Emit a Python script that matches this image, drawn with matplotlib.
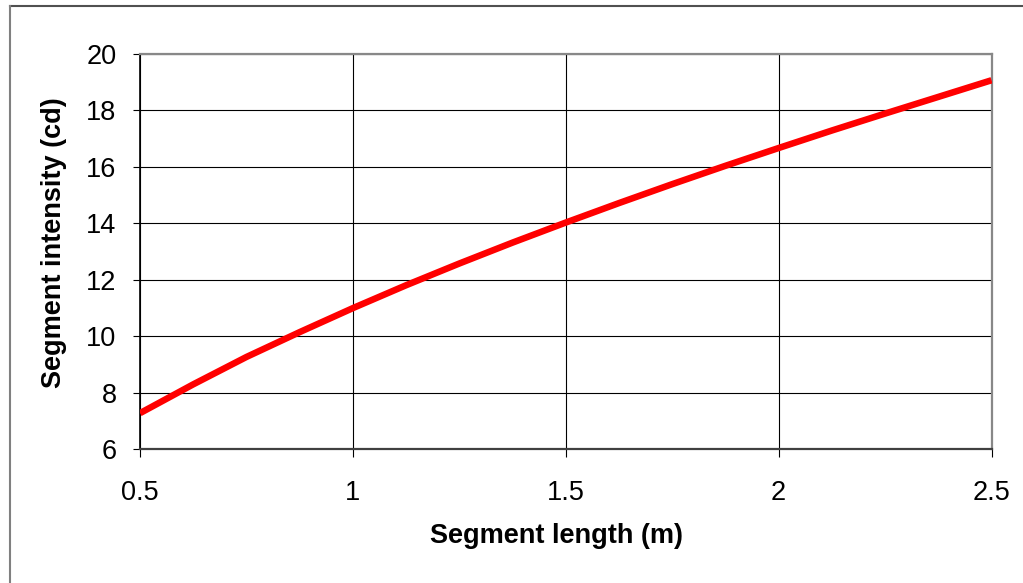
import matplotlib
matplotlib.use("Agg")
import matplotlib.pyplot as plt
from matplotlib.lines import Line2D

segment_length = [0.5, 0.625, 0.75, 0.875, 1.0, 1.125, 1.25, 1.375, 1.5,
                  1.625, 1.75, 1.875, 2.0, 2.125, 2.25, 2.375, 2.5]
segment_intensity = [7.28, 8.30, 9.27, 10.15, 11.0, 11.81, 12.58, 13.32, 14.03,
                     14.72, 15.39, 16.04, 16.67, 17.29, 17.89, 18.48, 19.07]
x_ticks = [0.5, 1, 1.5, 2, 2.5]
x_tick_labels = ["0.5", "1", "1.5", "2", "2.5"]
y_ticks = [6, 8, 10, 12, 14, 16, 18, 20]

plt.rcParams['font.family'] = ['Liberation Sans', 'DejaVu Sans']

W, H = 1023, 583
fig = plt.figure(figsize=(W / 100, H / 100), dpi=100)
fig.patch.set_facecolor('white')

# outer chart border (top and left visible)
fig.add_artist(Line2D([9.5 / W, 1.0], [1 - 6 / H, 1 - 6 / H], transform=fig.transFigure,
                      color='#505050', lw=1.5))
fig.add_artist(Line2D([9.5 / W, 9.5 / W], [1 - 6 / H, 0.0], transform=fig.transFigure,
                      color='#808080', lw=1.5))

left, right = 140 / W, 991.5 / W
bottom, top = 1 - 449.3 / H, 1 - 54 / H
ax = fig.add_axes([left, bottom, right - left, top - bottom])

ax.plot(segment_length, segment_intensity, color='#FF0000', lw=4.7,
        solid_capstyle='butt', solid_joinstyle='round', zorder=3)

ax.set_xlim(0.5, 2.5)
ax.set_ylim(6, 20)
ax.set_xticks(x_ticks)
ax.set_xticklabels(x_tick_labels)
ax.set_yticks(y_ticks)

ax.grid(True, color='#000000', lw=0.8, zorder=1)
ax.set_axisbelow(True)

ax.spines['left'].set_color('#000000')
ax.spines['left'].set_linewidth(1.2)
ax.spines['bottom'].set_color('#404040')
ax.spines['bottom'].set_linewidth(1.6)
ax.spines['top'].set_color('#888888')
ax.spines['top'].set_linewidth(1.6)
ax.spines['right'].set_color('#888888')
ax.spines['right'].set_linewidth(1.6)

ax.tick_params(axis='y', direction='out', length=5, width=0.8, pad=12,
               labelsize=19.5, colors='#000000')
ax.tick_params(axis='x', direction='out', length=6, width=0.8, pad=16,
               labelsize=19.5, colors='#000000')

ax.set_xlabel('Segment length (m)', fontsize=19.5, fontweight='bold')
ax.set_ylabel('Segment intensity (cd)', fontsize=19.5, fontweight='bold')
ax.xaxis.set_label_coords(0.489, -0.186)
ax.yaxis.set_label_coords(-0.086, 0.524)

fig.savefig('out.png', dpi=100, facecolor='white')
